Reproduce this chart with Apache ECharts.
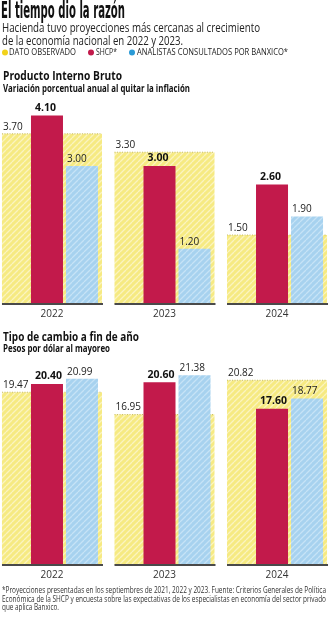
<!DOCTYPE html>
<html><head><meta charset="utf-8">
<script src="https://cdn.jsdelivr.net/npm/echarts@6/dist/echarts.min.js"></script>
<style>html,body{margin:0;padding:0;background:#fff}#c{width:329px;height:620px}</style>
</head><body><div id="c"></div>
<script>
// ---------- data ----------
const years = ['2022', '2023', '2024'];
const legendNames = ['DATO OBSERVADO', 'SHCP*', 'ANALISTAS CONSULTADOS POR BANXICO*'];
const pibObservado = [3.70, 3.30, 1.50];
const pibSHCP = [4.10, 3.00, 2.60];
const pibBanxico = [3.00, 1.20, 1.90];
const tcObservado = [19.47, 16.95, 20.82];
const tcSHCP = [20.40, 20.60, 17.60];
const tcBanxico = [20.99, 21.38, 18.77];

// ---------- styles ----------
const C_YEL = '#F6EA82', C_YEL_S = '#FBF4BF';
const C_RED = '#C21A4B';
const C_BLU = '#A7D2EF', C_BLU_S = '#C6E3F6';
const TXT = '#222';

function stripes(base, stripe) {
  const c = document.createElement('canvas'); c.width = c.height = 6;
  const g = c.getContext('2d'); g.fillStyle = base; g.fillRect(0, 0, 6, 6);
  g.strokeStyle = stripe; g.lineWidth = 1.3; g.beginPath();
  for (let k = -6; k <= 12; k += 6) { g.moveTo(k, 6); g.lineTo(k + 6, 0); }
  g.stroke();
  return c;
}
const patY = { image: stripes(C_YEL, C_YEL_S), repeat: 'repeat' };
const patB = { image: stripes(C_BLU, C_BLU_S), repeat: 'repeat' };

const mctx = document.createElement('canvas').getContext('2d');
function fit(text, font, w) { mctx.font = font; return w / mctx.measureText(text).width; }
function txt(text, x, y, font, w, fill) {
  return {
    type: 'text', x: x, y: y, scaleX: fit(text, font, w),
    style: { text: text, font: font, fill: fill || TXT, textVerticalAlign: 'middle' }
  };
}

const GW = 100, RO = 29, BO = 64, BW = 32;
const FNUM = '10px "Open Sans"', FNUMB = 'bold 10.5px "Open Sans"';

function series(kind, name, data, ai) {
  return {
    type: 'custom', name: name, xAxisIndex: ai, yAxisIndex: ai,
    data: data.map((v, i) => [i, v]),
    z: kind === 'axis' ? 10 : 2,
    silent: true,
    renderItem: function (params, api) {
      const i = api.value(0), v = api.value(1);
      const b = api.coord([i, 0]), t = api.coord([i, v]);
      const gl = b[0] - GW / 2, y0 = b[1], y1 = t[1];
      const lab = v.toFixed(2);
      if (kind === 'obs') {
        return { type: 'group', children: [
          { type: 'rect', shape: { x: gl, y: y1, width: GW, height: y0 - y1 }, style: { fill: patY } },
          { type: 'line', shape: { x1: gl, y1: y1, x2: gl + GW, y2: y1 }, style: { stroke: '#C9BD66', lineWidth: 1, lineDash: [1, 1.5] } },
          { type: 'text', x: gl + 1, y: y1 - 2, style: { text: lab, font: FNUM, fill: TXT, textVerticalAlign: 'bottom' } }
        ]};
      }
      if (kind === 'shcp') {
        return { type: 'group', children: [
          { type: 'rect', shape: { x: gl + RO, y: y1, width: BW, height: y0 - y1 }, style: { fill: C_RED } },
          { type: 'text', x: gl + RO + 4, y: y1 - 2, style: { text: lab, font: FNUMB, fill: '#111', textVerticalAlign: 'bottom' } }
        ]};
      }
      if (kind === 'bx') {
        return { type: 'group', children: [
          { type: 'rect', shape: { x: gl + BO, y: y1, width: BW, height: y0 - y1 }, style: { fill: patB } },
          { type: 'text', x: gl + BO + 1, y: y1 - 2, style: { text: lab, font: FNUM, fill: TXT, textVerticalAlign: 'bottom' } }
        ]};
      }
      return { type: 'group', children: [
        { type: 'line', shape: { x1: gl, y1: y0, x2: gl + GW + 1, y2: y0 }, style: { stroke: '#4a4a4a', lineWidth: 2 } },
        { type: 'text', x: b[0], y: y0 + 10, style: { text: years[i], font: '10px "Open Sans"', fill: '#333', textAlign: 'center', textVerticalAlign: 'middle' } }
      ]};
    }
  };
}

const xAx = (gi) => ({ type: 'value', gridIndex: gi, min: -0.462, max: 2.462, show: false });
const yAx = (gi, max) => ({ type: 'value', gridIndex: gi, min: 0, max: max, show: false });

const chart = echarts.init(document.getElementById('c'), null, { renderer: 'canvas' });

const legendY = 52.5;
const graphics = [
  txt('El tiempo dio la razón', 1, 12.5, 'bold 23px "Liberation Sans Narrow", "DejaVu Sans Condensed", sans-serif', 124, '#111'),
  txt('Hacienda tuvo proyecciones más cercanas al crecimiento', 2, 28.5, '13.5px "Open Sans"', 258, '#222'),
  txt('de la economía nacional en 2022 y 2023.', 2, 41.5, '13.5px "Open Sans"', 181, '#222'),
  { type: 'circle', shape: { cx: 5, cy: legendY, r: 3 }, style: { fill: '#F2D21B' } },
  txt(legendNames[0], 9, legendY, '9.5px "Open Sans"', 67, '#222'),
  { type: 'circle', shape: { cx: 91, cy: legendY, r: 3 }, style: { fill: C_RED } },
  txt(legendNames[1], 96, legendY, '9.5px "Open Sans"', 21, '#222'),
  { type: 'circle', shape: { cx: 132, cy: legendY, r: 3 }, style: { fill: '#2A9AD6' } },
  txt(legendNames[2], 137, legendY, '9.5px "Open Sans"', 151, '#222'),
  txt('Producto Interno Bruto', 3, 76, 'bold 13px "Open Sans"', 119, '#111'),
  txt('Variación porcentual anual al quitar la inflación', 3, 89, 'bold 10px "Open Sans"', 187, '#111'),
  txt('Tipo de cambio a fin de año', 3, 337, 'bold 13px "Open Sans"', 136, '#111'),
  txt('Pesos por dólar al mayoreo', 3, 349.5, 'bold 10px "Open Sans"', 107, '#111'),
  txt('*Proyecciones presentadas en los septiembres de 2021, 2022 y 2023. Fuente: Criterios Generales de Política', 2, 591, '8.5px "Open Sans"', 324, '#333'),
  txt('Económica de la SHCP y encuesta sobre las expectativas de los especialistas en economía del sector privado', 2, 599.5, '8.5px "Open Sans"', 324, '#333'),
  txt('que aplica Banxico.', 2, 608, '8.5px "Open Sans"', 57, '#333')
];

chart.setOption({
  animation: false,
  backgroundColor: '#fff',
  grid: [
    { left: 0, right: 0, top: 97, bottom: 316 },
    { left: 0, right: 0, top: 352, bottom: 55 }
  ],
  xAxis: [xAx(0), xAx(1)],
  yAxis: [yAx(0, 4.5), yAx(1, 24)],
  series: [
    series('obs', legendNames[0], pibObservado, 0),
    series('shcp', legendNames[1], pibSHCP, 0),
    series('bx', legendNames[2], pibBanxico, 0),
    series('axis', 'axis0', pibObservado, 0),
    series('obs', legendNames[0], tcObservado, 1),
    series('shcp', legendNames[1], tcSHCP, 1),
    series('bx', legendNames[2], tcBanxico, 1),
    series('axis', 'axis1', tcObservado, 1)
  ],
  graphic: graphics
});
</script></body></html>
